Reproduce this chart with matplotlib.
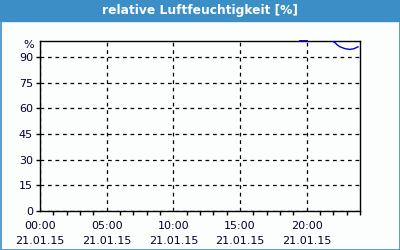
import matplotlib
matplotlib.use("Agg")
import matplotlib.pyplot as plt
import numpy as np

# hours after 21.01.15 00:00
hours_a = [19.5, 19.75, 20.0]
humid_a = [99.4, 99.4, 99.4]
hours_b = [21.9, 22.13, 22.28, 22.5, 22.88, 23.25, 23.55, 23.85]
humid_b = [99.5, 98.4, 97.2, 96.0, 94.9, 94.5, 94.9, 96.0]

x_ticks = [0, 5, 10, 15, 20]
x_labels = ["00:00\n21.01.15", "05:00\n21.01.15", "10:00\n21.01.15",
            "15:00\n21.01.15", "20:00\n21.01.15"]
y_ticks = [0, 15, 30, 45, 60, 75, 90]
title = "relative Luftfeuchtigkeit [%]"

frame_blue = "#3c8fc6"
text_col = "#00002a"

fig = plt.figure(figsize=(4, 2.5), dpi=100, facecolor="#fcfefd")

# title bar and border
fig.patches.append(plt.Rectangle((0, 1 - 21 / 250), 1, 21 / 250, transform=fig.transFigure,
                                 color=frame_blue, zorder=0))
fig.patches.append(plt.Rectangle((0.5 / 400, 0.5 / 250), 1 - 1 / 400, 1 - 1 / 250,
                                 transform=fig.transFigure, fill=False,
                                 edgecolor=frame_blue, linewidth=1.2, zorder=0))
fig.text(0.5, 1 - 10.5 / 250, title, ha="center", va="center", color="white",
         fontsize=8.8, fontweight="bold")

ax = fig.add_axes([0.1, 39 / 250, 0.8, 170 / 250])
ax.set_facecolor("#fcfefd")
ax.plot(hours_a, humid_a, color="#000090", linewidth=1.3, zorder=5, clip_on=False)
ax.plot(hours_b, humid_b, color="#0000e0", linewidth=1.0, zorder=5)

ax.set_xlim(0, 24)
ax.set_ylim(0, 99.4)
ax.set_xticks(x_ticks)
ax.set_xticklabels(x_labels, linespacing=1.6)
ax.set_xticks(np.arange(0, 25, 1), minor=True)
ax.set_yticks(y_ticks)
ax.tick_params(axis="both", which="both", direction="out", colors="black",
               labelcolor=text_col, labelsize=8, width=1)
ax.tick_params(axis="x", which="major", length=0, pad=7)
ax.tick_params(axis="x", which="minor", length=3)
ax.tick_params(axis="y", which="major", length=3, pad=2)
ax.grid(True, which="major", color="black", linestyle=(0, (3, 3)), linewidth=0.9)
for s in ax.spines.values():
    s.set_color("black")
    s.set_linewidth(1)

fig.text(34 / 400, 1 - 45 / 250, "%", ha="right", va="center", color=text_col, fontsize=8)

fig.savefig("out.png", dpi=100, facecolor=fig.get_facecolor())
